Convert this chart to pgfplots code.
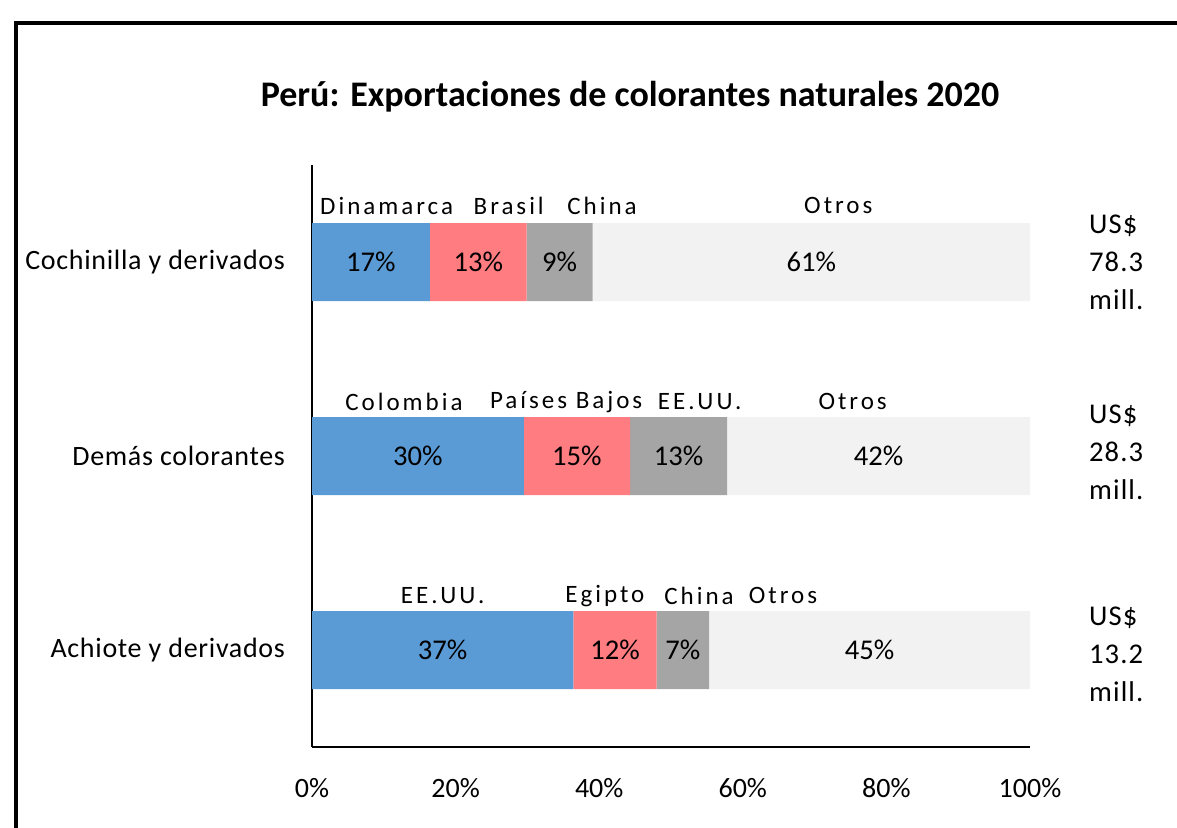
\documentclass[border=0pt]{standalone}
\usepackage{fontspec}
\setmainfont{Carlito}
\usepackage{pgfplots}
\pgfplotsset{compat=1.18}
\usepackage{pgfplotstable}
\definecolor{cblue}{RGB}{91,155,213}
\definecolor{cpink}{RGB}{255,124,128}
\definecolor{cgray}{RGB}{165,165,165}
\definecolor{clight}{RGB}{242,242,242}

% y: 0 = Achiote, 1 = Demas, 2 = Cochinilla
\pgfplotstableread{
y x lab
0 36.4 37
1 29.5 30
2 16.4 17
}\first
\pgfplotstableread{
y x lab
0 11.6 12
1 14.8 15
2 13.5 13
}\second
\pgfplotstableread{
y x lab
0 7.3 7
1 13.5 13
2 9.2 9
}\third
\pgfplotstableread{
y x lab
0 44.7 45
1 42.2 42
2 60.9 61
}\rest

\newcommand\ctry[1]{{\fontsize{12.5}{14}\selectfont\addfontfeature{LetterSpace=12}#1}}

\begin{document}
\begin{tikzpicture}
\path[use as bounding box] (0,0) rectangle (588.5pt,413.5pt);
\begin{scope}
\clip (0,0) rectangle (588.5pt,413.5pt);
\draw[line width=2pt] (7.8pt,-20pt) -- (7.8pt,402pt) -- (600pt,402pt);
\end{scope}
\node[font=\fontsize{18}{21}\selectfont\bfseries] at (315pt,365pt) {Perú: Exportaciones de colorantes naturales 2020};
\begin{axis}[
  at={(156pt,40pt)}, anchor=south west,
  scale only axis, width=359pt, height=291pt,
  xbar stacked, bar width=39pt,
  xmin=0, xmax=100, ymin=-0.5, ymax=2.5,
  axis x line*=bottom, axis y line*=left,
  axis line style={-, line width=1pt},
  xtick={0,20,...,100}, xticklabel={\pgfmathprintnumber{\tick}\%},
  ytick={0,1,2},
  yticklabels={Achiote y derivados, Demás colorantes, Cochinilla y derivados},
  major tick length=0pt,
  /pgf/number format/assume math mode=true,
  xticklabel style={yshift=-12pt, font=\fontsize{14}{16}\selectfont},
  yticklabel style={xshift=-10pt, font=\fontsize{14}{16}\selectfont\addfontfeature{LetterSpace=2.5}},
  point meta=explicit symbolic,
  nodes near coords={\pgfplotspointmeta\%},
  every node near coord/.append style={anchor=center,
    font=\fontsize{14.3}{16}\selectfont},
  clip=false,
]
\addplot[fill=cblue, draw=none] table[x=x, y=y, meta=lab]{\first};
\addplot[fill=cpink, draw=none] table[x=x, y=y, meta=lab]{\second};
\addplot[fill=cgray, draw=none] table[x=x, y=y, meta=lab]{\third};
\addplot[fill=clight, draw=none] table[x=x, y=y, meta=lab]{\rest};

% country names above the bars
\node at (axis cs:10.4,2.29) {\ctry{Dinamarca}};
\node at (axis cs:27.4,2.29) {\ctry{Brasil}};
\node at (axis cs:40.4,2.29) {\ctry{China}};
\node at (axis cs:73.3,2.29) {\ctry{Otros}};
\node at (axis cs:12.8,1.28) {\ctry{Colombia}};
\node at (axis cs:35.4,1.28) {\ctry{Países Bajos}};
\node at (axis cs:54.0,1.28) {\ctry{EE.UU.}};
\node at (axis cs:75.3,1.28) {\ctry{Otros}};
\node at (axis cs:18.2,0.28) {\ctry{EE.UU.}};
\node at (axis cs:40.8,0.28) {\ctry{Egipto}};
\node at (axis cs:53.9,0.28) {\ctry{China}};
\node at (axis cs:65.6,0.28) {\ctry{Otros}};

% totals
\node[anchor=west, align=left, font=\fontsize{14.3}{19}\selectfont\addfontfeature{LetterSpace=4}] at (axis cs:100,2.0) [xshift=26pt] {US\$\\78.3\\mill.};
\node[anchor=west, align=left, font=\fontsize{14.3}{19}\selectfont\addfontfeature{LetterSpace=4}] at (axis cs:100,1.02) [xshift=26pt] {US\$\\28.3\\mill.};
\node[anchor=west, align=left, font=\fontsize{14.3}{19}\selectfont\addfontfeature{LetterSpace=4}] at (axis cs:100,-0.02) [xshift=26pt] {US\$\\13.2\\mill.};
\end{axis}
\end{tikzpicture}
\end{document}
